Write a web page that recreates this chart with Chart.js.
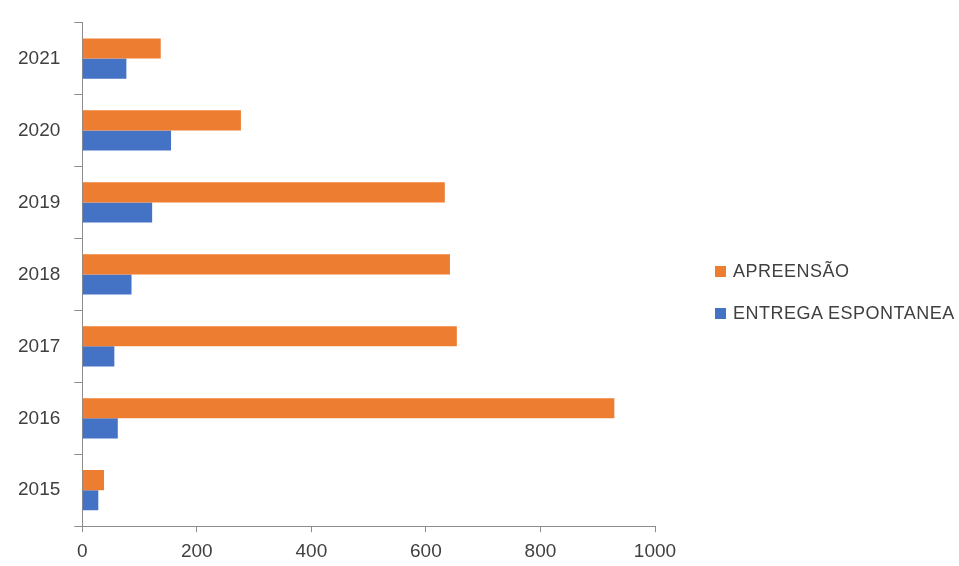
<!DOCTYPE html>
<html>
<head>
<meta charset="utf-8">
<script src="https://cdn.jsdelivr.net/npm/chart.js@4/dist/chart.umd.min.js"></script>
<style>
  html, body { margin: 0; padding: 0; background: #fff; }
  #wrap { position: relative; width: 959px; height: 566px; }
  #legenda { position: absolute; left: 715px; top: 260px; font: 18px 'Liberation Sans', sans-serif; color: #404040; letter-spacing: 0.5px; }
  #legenda div { display: flex; align-items: center; height: 22px; margin-bottom: 20px; white-space: nowrap; }
  #legenda span { display: inline-block; width: 11px; height: 11px; margin-right: 7px; }
</style>
</head>
<body>
<div id="wrap">
  <canvas id="myChart"></canvas>
  <div id="legenda"></div>
</div>
<script>
// anos, de cima para baixo
const anos = ['2021', '2020', '2019', '2018', '2017', '2016', '2015'];
const apreensao = [137, 277, 633, 642, 654, 929, 38];
const entregaEspontanea = [77, 155, 122, 86, 56, 62, 28];
const xTicks = [0, 200, 400, 600, 800, 1000];

const corTexto = '#404040';
const corEixo = '#8c8c8c';

const chart = new Chart('myChart', {
    type: 'bar',
    data: {
        labels: anos,
        datasets: [{
            label: 'APREENSÃO',
            backgroundColor: '#ED7D31',
            data: apreensao
        },
        {
            label: 'ENTREGA ESPONTANEA',
            backgroundColor: '#4472C4',
            data: entregaEspontanea
        }]
    },
    options: {
        indexAxis: 'y',
        responsive: true,
        maintainAspectRatio: false,
        animation: false,
        layout: { padding: { top: 16, left: 4, right: 304, bottom: -5 } },
        datasets: {
            bar: { barPercentage: 1, categoryPercentage: 0.56 }
        },
        plugins: {
            tooltip: { enabled: false },
            legend: { display: false }
        },
        scales: {
            x: {
                min: 0,
                max: 1000,
                afterBuildTicks: axis => { axis.ticks = xTicks.map(v => ({ value: v })); },
                border: { display: true, color: corEixo, width: 1 },
                grid: { drawOnChartArea: false, tickLength: 6, color: corEixo },
                ticks: {
                    color: corTexto,
                    padding: 8,
                    maxRotation: 0,
                    callback: v => String(v),
                    font: { family: 'Liberation Sans', size: 19 }
                }
            },
            y: {
                border: { display: true, color: corEixo, width: 1 },
                grid: { drawOnChartArea: false, offset: true, tickLength: 8, color: corEixo },
                ticks: {
                    color: corTexto,
                    padding: 14,
                    font: { family: 'Liberation Sans', size: 19, lineHeight: 0.9 }
                }
            }
        }
    }
});

// legenda à direita, na mesma ordem das séries
const legenda = document.getElementById('legenda');
chart.data.datasets.forEach(ds => {
    const item = document.createElement('div');
    const caixa = document.createElement('span');
    caixa.style.background = ds.backgroundColor;
    item.appendChild(caixa);
    item.appendChild(document.createTextNode(ds.label));
    legenda.appendChild(item);
});
</script>
</body>
</html>
